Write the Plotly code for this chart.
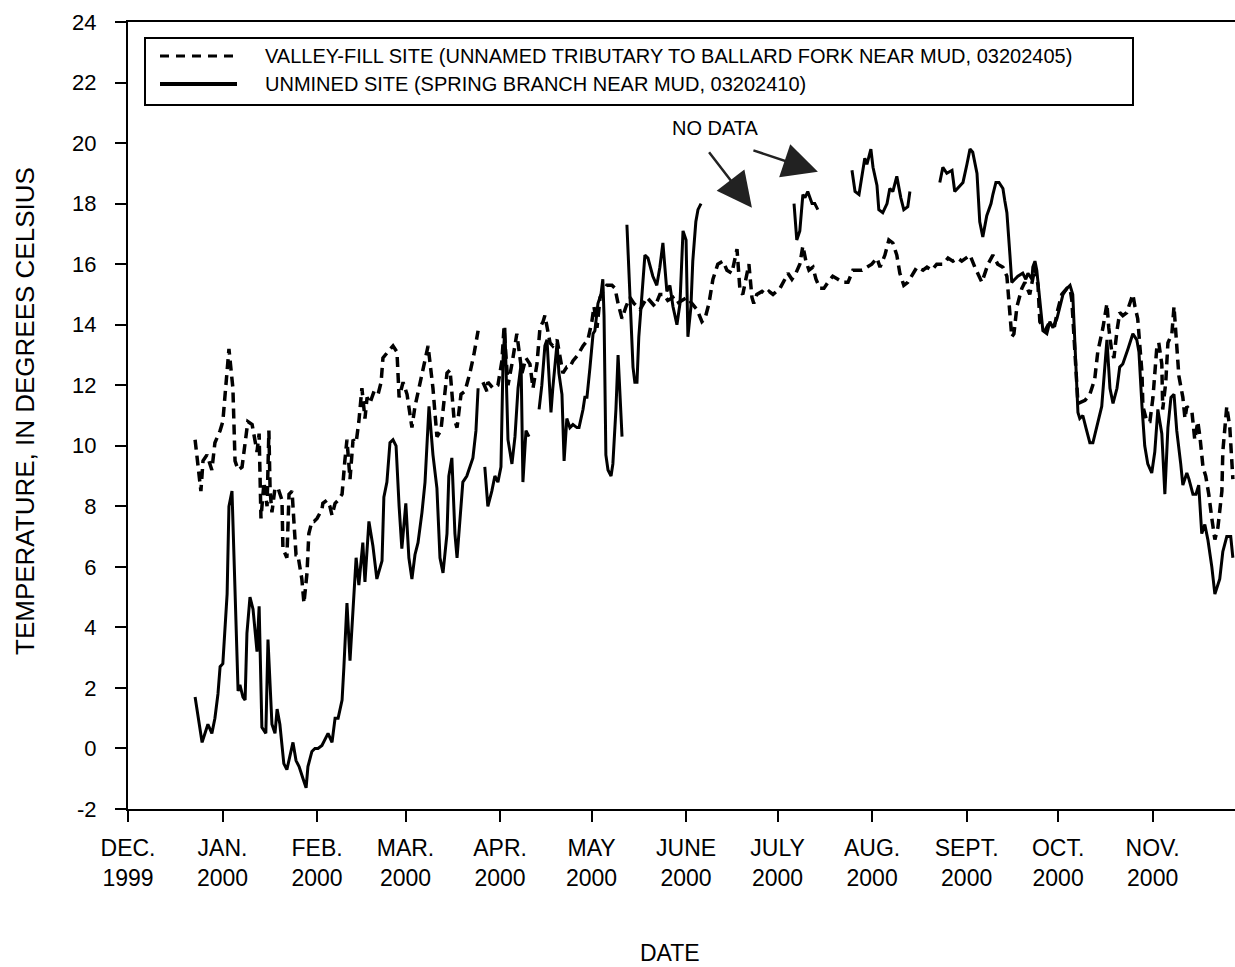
import pandas as pd
import plotly.graph_objects as go

# ---------------- data (days after 1 Dec 1999, temperature in deg C) ----------------
VF_DAY = [22.0, 23.9, 24.6, 25.9, 27.5, 28.5, 30.2, 31.1, 33.1, 34.4, 35.1, 36.1, 37.4, 38.4, 39.3,
          40.7, 41.6, 42.3, 43.0, 43.6, 44.6, 45.6, 46.2, 46.6, 47.2, 48.2, 49.2, 50.5, 50.8, 52.1,
          52.8, 53.8, 54.4, 55.1, 55.7, 57.0, 57.7, 58.7, 59.3, 60.3, 61.0, 62.0, 63.6, 63.9, 65.2,
          66.2, 66.9, 67.9, 68.9, 70.2, 71.1, 71.8, 72.8, 73.8, 74.8, 75.7, 76.7, 77.7, 78.4, 79.3,
          80.7, 82.0, 83.0, 83.6, 85.2, 86.9, 88.2, 88.9, 90.2, 91.5, 93.1, 94.1, 95.4, 96.7, 98.4,
          100.0, 101.3, 102.6, 103.6, 104.6, 105.6, 106.9, 107.9, 109.2, 110.5, 112.1, 113.4, 114.8,
          115.6,
          116.4, 117.7, 118.0, 119.7, 121.3, 122.6, 123.3, 124.6, 125.9, 127.5, 129.2, 130.5, 131.8,
          132.8, 134.1, 135.1, 136.1, 136.7, 138.4, 139.3, 140.7, 141.6, 142.6, 143.9, 144.9, 145.9,
          147.5, 149.2, 150.8, 152.1, 152.8, 153.8, 154.8, 155.7, 157.0, 158.7, 159.7, 160.7, 162.0,
          163.3, 164.6, 165.9, 167.9, 170.2, 171.8, 172.8, 174.4, 175.7, 177.0, 178.7, 180.0, 181.6,
          183.3, 184.9, 186.6, 188.2, 189.2, 190.5, 191.8, 193.4, 195.1, 196.4, 198.0, 199.7, 200.7,
          201.6, 203.0, 203.6, 204.6, 205.2, 206.2, 207.9, 209.2, 210.2, 211.5, 212.8, 213.8, 215.4,
          216.4, 217.7, 219.0, 220.3, 221.3, 222.3, 223.3, 224.6, 225.6, 226.9, 228.2, 229.5, 231.1,
          232.8, 234.4, 236.1, 237.7, 239.0, 240.7, 242.3, 243.9, 245.6, 246.6, 248.2, 249.5, 250.8,
          252.1, 253.1, 254.4, 255.7, 257.4, 258.7, 260.7, 262.0, 263.6, 265.2, 267.2, 268.9, 270.5,
          272.1, 273.4, 276.1, 277.7, 280.0, 282.0, 283.6, 285.2, 286.9, 288.2, 288.9, 289.8, 290.5,
          291.5, 293.1, 294.1, 295.7, 297.4, 298.4, 299.0, 300.7, 302.3, 303.9, 304.9, 306.2, 307.9,
          308.9, 309.5, 311.5, 313.8, 315.4, 317.0, 318.0, 319.7, 321.0, 321.6, 322.6, 323.3, 324.3,
          325.2, 326.2, 327.5, 328.5, 329.5, 330.2, 331.1, 332.5, 332.8, 334.1, 335.1, 336.1, 337.4,
          338.0, 339.0, 339.3, 340.3, 341.0, 342.3, 343.0, 343.6, 344.6, 345.9, 346.6, 347.2, 348.9,
          349.8, 350.8, 351.5, 352.5, 353.4, 354.4, 355.4, 356.4, 357.4, 358.7, 359.0, 359.7, 360.3,
          361.3, 362.3]
VF_TEMP = [10.2, 8.5, 9.5, 9.7, 9.2, 10.1, 10.5, 10.8, 13.2, 11.9, 9.5, 9.2, 9.3, 10.2, 10.8,
           10.7, 10.2, 9.8, 10.4, 7.6, 8.8, 8.0, 10.5, 8.5, 7.8, 8.6, 8.6, 8.2, 6.6, 6.3,
           8.4, 8.5, 7.5, 6.4, 6.4, 5.6, 4.8, 5.8, 7.1, 7.5, 7.5, 7.6, 7.9, 8.1, 8.2,
           8.0, 7.7, 8.1, 8.2, 8.4, 9.5, 10.2, 8.9, 10.2, 10.1, 10.8, 11.9, 10.9, 11.6, 11.4,
           11.8, 11.7, 12.1, 12.9, 13.1, 13.3, 13.1, 11.6, 12.1, 11.7, 10.6, 11.3, 11.9, 12.5, 13.3,
           11.9, 10.3, 10.5, 11.6, 12.4, 12.5, 10.9, 10.6, 11.7, 11.8, 12.4, 13.0, 13.8,
           None,
           12.1, 11.8, 12.1, 11.9, 12.0, 12.8, 13.9, 12.0, 12.7, 13.7, 12.4, 12.9, 12.7,
           11.9, 12.7, 13.9, 14.1, 14.3, 13.4, 13.3, 13.5, 12.9, 12.4, 12.6, 12.6, 12.8,
           13.0, 13.3, 13.5, 14.1, 14.6, 13.9, 14.9, 15.1, 15.3, 15.3, 15.2, 14.7, 14.2,
           14.6, 14.9, 14.7, 14.5, 14.9, 14.7, 14.6, 15.0, 15.0, 14.8, 14.9, 14.7, 14.8,
           14.9, 14.7, 14.5, 14.1, 14.2, 14.7, 15.5, 16.0, 16.1, 15.8, 15.7, 16.5, 15.1,
           15.0, 15.7, 16.0, 14.9, 14.7, 15.0, 15.1, 15.0, 15.1, 15.0, 15.1, 15.2, 15.5,
           15.7, 15.5, 15.7, 16.0, 16.6, 16.1, 15.8, 15.9, 15.5, 15.2, 15.2, 15.4, 15.6,
           15.5, 15.4, 15.4, 15.8, 15.8, 15.8, 15.9, 16.0, 16.2, 15.9, 16.3, 16.8, 16.7,
           16.3, 15.7, 15.3, 15.4, 15.7, 15.9, 15.8, 15.9, 15.8, 16.0, 16.0, 16.2, 16.1,
           16.2, 16.1, 16.3, 15.9, 15.4, 16.0, 16.3, 16.0, 15.9, 15.6, 14.6, 13.6, 13.7,
           14.6, 15.2, 15.4, 15.0, 15.9, 15.3, 14.1, 13.8, 14.1, 14.0, 14.5, 15.0, 15.2,
           15.2, 14.8, 11.4, 11.5, 11.7, 12.2, 13.1, 13.9, 14.7, 13.9, 13.1, 12.9, 13.8,
           14.4, 14.3, 14.4, 14.7, 15.0, 14.6, 14.2, 12.4, 11.3, 10.8, 10.8, 11.6, 13.3,
           13.4, 12.7, 11.2, 12.1, 13.4, 13.7, 14.6, 13.8, 12.3, 11.6, 10.9, 11.3, 11.1,
           10.2, 10.8, 10.3, 9.3, 9.0, 8.4, 7.6, 6.9, 7.3, 8.5, 9.8, 10.7, 11.3,
           10.6, 8.9]

UM_DAY = [22.0, 24.3, 26.2, 27.5, 28.5, 29.5, 30.2, 31.1, 32.5, 33.1, 34.1, 35.1, 36.1, 36.7, 37.7,
          38.4, 39.0, 40.0, 41.0, 42.3, 43.0, 43.9, 45.2, 45.9, 47.2, 48.2, 48.9, 49.8, 51.1, 52.1,
          53.4, 54.1, 55.1, 56.1, 57.4, 58.4, 59.0, 60.3, 61.3, 62.3, 63.6, 64.6, 65.6, 66.9, 67.9,
          68.9, 70.2, 70.8, 71.8, 72.8, 73.8, 74.8, 75.7, 77.0, 77.7, 79.0, 80.3, 81.6, 83.3, 83.9,
          84.9, 85.9, 86.9, 87.9, 88.9, 89.8, 91.1, 92.1, 93.1, 94.1, 95.1, 96.4, 97.4, 98.7, 100.0,
          101.3, 102.3, 103.3, 104.6, 105.2, 106.2, 107.2, 107.9, 108.9, 109.8, 111.1, 112.1, 113.1,
          114.1, 114.8,
          116.0,
          117.0, 118.0, 119.3, 120.3, 121.3, 122.3, 123.0, 123.6, 124.6, 125.9, 126.9, 127.9, 128.9,
          129.5, 130.5, 131.5,
          133.0,
          134.8, 135.7, 136.7, 137.4, 138.7, 139.3, 140.7, 141.3, 142.3, 143.0, 143.9, 144.9, 145.9,
          147.2, 147.9, 149.2, 149.8, 150.5, 151.5, 152.5, 153.1, 154.1, 155.1, 155.7, 156.1, 156.7,
          157.4, 158.4, 159.0, 160.0, 160.7, 162.0,
          162.8,
          163.6, 164.6, 165.6, 166.2, 166.9, 167.5, 168.5, 169.5, 170.5, 172.1, 173.4, 174.4, 175.4,
          176.7, 177.7, 178.7, 180.0, 181.0, 182.0, 183.0, 183.6, 184.6, 185.2, 186.2, 186.9, 187.9,
          200.0,
          218.4, 219.3, 220.3, 221.3, 222.0, 222.9, 224.3, 225.2, 226.2,
          232.0,
          237.4, 238.4, 239.7, 241.0, 241.6, 242.3, 243.6, 244.3, 245.6, 246.2, 247.5, 248.9, 249.8,
          250.8, 252.1, 253.4, 254.4, 255.7, 256.4,
          261.0,
          266.2, 267.2, 268.5, 270.2, 271.1, 272.8, 273.8, 275.1, 276.1, 277.0, 278.4, 279.3, 280.3,
          281.6, 283.0, 283.6, 284.6, 285.6, 286.9, 287.5, 288.2, 289.2, 289.8, 290.8, 291.8, 293.4,
          294.4, 295.1, 296.4, 296.7, 297.4, 298.0, 299.0, 300.0, 301.3, 302.3, 303.3, 304.6, 305.6,
          306.6, 307.9, 308.9, 309.8, 310.5, 311.5, 312.1, 313.1, 314.1, 315.4, 316.4, 318.0, 319.3,
          321.0, 322.0, 323.0, 324.3, 325.2, 326.2, 327.9, 329.5, 330.8, 331.5, 332.5, 333.4, 334.4,
          335.7, 336.7, 337.7, 339.0, 340.0, 341.0, 342.0, 343.0, 343.9, 345.2, 345.9, 347.2, 347.9,
          349.2, 350.2, 351.1, 352.1, 353.1, 354.1, 355.4, 356.4, 358.0, 359.0, 360.3, 361.6, 362.3]
UM_TEMP = [1.7, 0.2, 0.8, 0.5, 1.0, 1.8, 2.7, 2.8, 5.1, 8.0, 8.5, 5.3, 1.9, 2.1, 1.7,
           1.6, 3.8, 5.0, 4.6, 3.2, 4.7, 0.7, 0.5, 3.6, 0.8, 0.5, 1.3, 0.8, -0.5, -0.7,
           -0.1, 0.2, -0.4, -0.6, -1.0, -1.3, -0.6, -0.1, 0.0, 0.0, 0.1, 0.3, 0.5, 0.2, 1.0,
           1.0, 1.6, 2.7, 4.8, 2.9, 4.5, 6.3, 5.4, 6.8, 5.5, 7.5, 6.7, 5.6, 6.2, 8.3,
           8.8, 10.1, 10.2, 10.0, 8.0, 6.6, 8.1, 6.3, 5.6, 6.4, 6.8, 7.8, 8.8, 11.3, 9.7,
           8.6, 6.3, 5.8, 7.1, 9.0, 9.6, 7.1, 6.3, 7.6, 8.8, 9.0, 9.3, 9.6,
           10.5, 11.9,
           None,
           9.3, 8.0, 8.5, 9.0, 8.8, 9.3, 12.9, 13.9, 10.2, 9.4, 10.3, 11.9, 12.7,
           8.8, 10.5, 10.3,
           None,
           11.2, 12.0, 13.3, 13.5, 11.1, 11.9, 13.4, 12.4, 11.7, 9.5, 10.9, 10.6, 10.7,
           10.6, 10.6, 11.2, 11.6, 11.6, 12.6, 13.7, 13.8, 14.7, 15.0, 15.5, 14.3, 9.7,
           9.2, 9.0, 9.4, 11.2, 13.0, 10.3,
           None,
           17.3, 15.1, 12.6, 12.1, 12.1, 13.6, 15.0, 16.3, 16.2, 15.6, 15.3, 15.9, 16.7,
           15.1, 15.3, 14.6, 14.0, 14.7, 17.1, 16.8, 13.6, 14.6, 16.1, 17.4, 17.8, 18.0,
           None,
           18.0, 16.8, 17.1, 18.3, 18.2, 18.4, 18.0, 18.0, 17.8,
           None,
           19.1, 18.4, 18.3, 19.1, 19.5, 19.3, 19.8, 19.2, 18.6, 17.8, 17.7, 18.0, 18.5,
           18.4, 18.9, 18.2, 17.8, 17.9, 18.4,
           None,
           18.7, 19.2, 19.0, 19.1, 18.4, 18.6, 18.7, 19.3, 19.8, 19.7, 19.0, 17.4, 16.9,
           17.6, 18.0, 18.3, 18.7, 18.7, 18.5, 18.1, 17.7, 16.3, 15.4, 15.5, 15.6, 15.7,
           15.5, 15.7, 15.5, 15.9, 16.1, 15.8, 14.8, 13.8, 13.7, 14.1, 13.9, 14.2, 14.6,
           15.0, 15.2, 15.3, 15.0, 13.4, 11.1, 10.9, 11.0, 10.6, 10.1, 10.1, 10.8, 11.3,
           13.5, 11.9, 11.4, 11.9, 12.6, 12.7, 13.2, 13.7, 13.5, 13.1, 11.3, 10.0, 9.4,
           9.1, 9.8, 11.2, 10.4, 8.4, 10.6, 11.6, 11.7, 10.5, 9.4, 8.7, 9.1, 8.9,
           8.4, 8.4, 8.7, 7.1, 7.4, 6.9, 6.0, 5.1, 5.6, 6.5, 7.0, 7.0, 6.3]

MONTH_TICKS = ["1999-12-01", "2000-01-01", "2000-02-01", "2000-03-01", "2000-04-01", "2000-05-01",
               "2000-06-01", "2000-07-01", "2000-08-01", "2000-09-01", "2000-10-01", "2000-11-01"]
MONTH_LABELS = ["DEC.<br>1999", "JAN.<br>2000", "FEB.<br>2000", "MAR.<br>2000", "APR.<br>2000",
                "MAY<br>2000", "JUNE<br>2000", "JULY<br>2000", "AUG.<br>2000", "SEPT.<br>2000",
                "OCT.<br>2000", "NOV.<br>2000"]
Y_TICKS = list(range(-2, 25, 2))
Y_LABELS = [str(v) for v in Y_TICKS]   # plain hyphen for "-2"

VF_NAME = "VALLEY-FILL SITE (UNNAMED TRIBUTARY TO BALLARD FORK NEAR MUD, 03202405)"
UM_NAME = "UNMINED SITE (SPRING BRANCH NEAR MUD, 03202410)"

BASE = pd.Timestamp("1999-12-01")


def to_dates(days):
    return [BASE + pd.Timedelta(days=d) for d in days]


FONT = "Liberation Sans, Arial, Helvetica, sans-serif"

fig = go.Figure()
fig.add_trace(go.Scatter(x=to_dates(VF_DAY), y=VF_TEMP, mode="lines", name=VF_NAME,
                         line=dict(color="black", width=3.5, dash="10px,6px"),
                         connectgaps=False, showlegend=False))
fig.add_trace(go.Scatter(x=to_dates(UM_DAY), y=UM_TEMP, mode="lines", name=UM_NAME,
                         line=dict(color="black", width=3),
                         connectgaps=False, showlegend=False))

# Figure fills the whole window; the page's default body margin is removed by post_script.
W, H = 1235, 967
X0, X1, Y0, Y1 = 128, 1235, 22, 809          # plot area in window pixels
L, R, T, B = X0, W - X1, Y0, H - Y1
PW, PH = X1 - X0, Y1 - Y0


def px(xp):
    return (xp - X0) / PW


def py(yp):
    return (Y1 - yp) / PH


shapes = [
    dict(type="rect", xref="paper", yref="paper", x0=px(145), x1=px(1133), y0=py(105), y1=py(38),
         line=dict(color="black", width=2), fillcolor="white", layer="above"),
    dict(type="line", xref="paper", yref="paper", x0=px(160), x1=px(237), y0=py(56), y1=py(56),
         line=dict(color="black", width=3, dash="9px,7px")),
    dict(type="line", xref="paper", yref="paper", x0=px(160), x1=px(237), y0=py(84), y1=py(84),
         line=dict(color="black", width=4)),
]

annotations = [
    dict(xref="paper", yref="paper", x=px(263), y=py(56), text=VF_NAME, showarrow=False,
         xanchor="left", yanchor="middle", font=dict(size=20, color="black", family=FONT)),
    dict(xref="paper", yref="paper", x=px(263), y=py(84), text=UM_NAME, showarrow=False,
         xanchor="left", yanchor="middle", font=dict(size=20, color="black", family=FONT)),
    dict(xref="paper", yref="paper", x=px(25), y=py(411), text="TEMPERATURE, IN DEGREES CELSIUS",
         textangle=-90, showarrow=False, xanchor="center", yanchor="middle",
         font=dict(size=26, color="black", family=FONT)),
    dict(xref="paper", yref="paper", x=px(670), y=py(953), text="DATE", showarrow=False,
         xanchor="center", yanchor="middle", font=dict(size=23, color="black", family=FONT)),
    dict(xref="paper", yref="paper", x=px(715), y=py(128), text="NO DATA", showarrow=False,
         xanchor="center", yanchor="middle", font=dict(size=20, color="black", family=FONT)),
    # arrows pointing into the data gaps
    dict(x=BASE + pd.Timedelta(days=(752 - 128) / 3.05), y=17.86, xref="x", yref="y", text="",
         showarrow=True, ax=-44, ay=-57, arrowhead=2, arrowsize=2.8, arrowwidth=2.5,
         arrowcolor="#222"),
    dict(x=BASE + pd.Timedelta(days=(818 - 128) / 3.05), y=19.05, xref="x", yref="y", text="",
         showarrow=True, ax=-66, ay=-22, arrowhead=2, arrowsize=2.8, arrowwidth=2.5,
         arrowcolor="#222"),
]

fig.update_layout(
    width=W, height=H,
    margin=dict(l=L, r=R, t=T, b=B, pad=0),
    paper_bgcolor="white", plot_bgcolor="white",
    font=dict(family=FONT, color="black", size=20),
    shapes=shapes, annotations=annotations,
    showlegend=False,
)
fig.update_xaxes(
    type="date", range=[BASE, BASE + pd.Timedelta(days=363)],
    tickmode="array", tickvals=MONTH_TICKS, ticktext=MONTH_LABELS,
    ticks="outside", ticklen=11, tickwidth=2, tickcolor="black",
    showline=True, linewidth=2, linecolor="black", mirror=True,
    showgrid=False, zeroline=False, tickfont=dict(size=23, family=FONT, color="black"),
    ticklabelstandoff=6,
)
fig.update_yaxes(
    range=[-2, 24], tickmode="array", tickvals=Y_TICKS, ticktext=Y_LABELS,
    ticks="outside", ticklen=11, tickwidth=2, tickcolor="black",
    showline=True, linewidth=2, linecolor="black",
    showgrid=False, zeroline=False, tickfont=dict(size=22, family=FONT, color="black"),
    ticklabelstandoff=14,
)

fig.write_html(
    "out.html",
    config={"displayModeBar": False},
    post_script="document.body.style.margin='0';document.body.style.overflow='hidden';",
)
